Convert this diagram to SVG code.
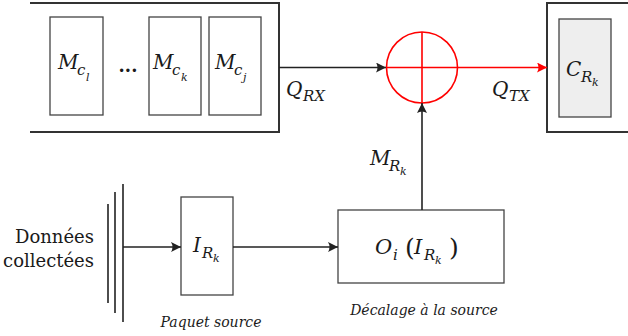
<svg xmlns="http://www.w3.org/2000/svg" width="628" height="336" viewBox="0 0 628 336">
<defs>
<marker id="ah" viewBox="0 0 10 10" refX="10" refY="5" markerWidth="10" markerHeight="10" markerUnits="userSpaceOnUse" orient="auto">
<path d="M0,0 Q3,5 0,10 L10,5 Z" fill="#222"/>
</marker>
<marker id="ahr" viewBox="0 0 10 10" refX="10" refY="5" markerWidth="10" markerHeight="10" markerUnits="userSpaceOnUse" orient="auto">
<path d="M0,0 Q3,5 0,10 L10,5 Z" fill="#ff0000"/>
</marker>
</defs>
<style>
.box{fill:#fff;stroke:#444;stroke-width:1.3}
.outer{fill:none;stroke:#333;stroke-width:2}
.wire{fill:none;stroke:#222;stroke-width:1.6}
.red{fill:none;stroke:#ff0000;stroke-width:1.6}
.m{font-family:"DejaVu Serif","Liberation Serif",serif;font-style:italic;fill:#1a1a1a}
.t{font-family:"DejaVu Serif","Liberation Serif",serif;fill:#1a1a1a}
.big{font-size:20px}
.sub{font-size:15px}
.ss{font-size:11px}
</style>
<rect width="628" height="336" fill="#fff"/>

<g id="memory">
<path class="outer" d="M30,3 H279 V132 H30"/>
<g id="mcl">
<rect class="box" x="50" y="17" width="53" height="98"/>
<text class="m big" x="58" y="69">M</text><text class="m sub" x="77" y="75">c</text><text class="m ss" x="86" y="81">l</text>
</g>
<g id="dots"><text class="t" x="128" y="72" font-size="18" font-weight="bold" text-anchor="middle">...</text></g>
<g id="mck">
<rect class="box" x="149" y="17" width="52" height="98"/>
<text class="m big" x="153" y="69">M</text><text class="m sub" x="172" y="75">c</text><text class="m ss" x="181" y="81">k</text>
</g>
<g id="mcj">
<rect class="box" x="209" y="17" width="52" height="98"/>
<text class="m big" x="215" y="69">M</text><text class="m sub" x="234" y="75">c</text><text class="m ss" x="243" y="81">j</text>
</g>
</g>

<g id="sum">
<circle class="red" cx="422" cy="67.5" r="35.5"/>
<path class="red" d="M386.5,67.5 H457.5 M422,32 V103"/>
</g>

<g id="cache">
<path class="outer" d="M628,3 H547 V132 H628"/>
<rect x="559" y="19" width="52" height="98" fill="#eeeeee" stroke="#444" stroke-width="1.3"/>
<text class="m big" x="566" y="76">C</text><text class="m sub" x="581" y="82">R</text><text class="m ss" x="592" y="86">k</text>
</g>

<g id="source">
<path class="wire" d="M108,204 V303 M115,192 V313 M123,184 V322"/>
<text class="t" font-size="18" x="94" y="243" text-anchor="end">Données</text>
<text class="t" font-size="18" x="94" y="267" text-anchor="end">collectées</text>
</g>

<g id="packet">
<rect class="box" x="181" y="197" width="52" height="98"/>
<text class="m big" x="193" y="252">I</text><text class="m sub" x="202" y="258">R</text><text class="m ss" x="213" y="262">k</text>
<text class="m" font-size="14" x="211" y="327" text-anchor="middle">Paquet source</text>
</g>

<g id="offset">
<rect class="box" x="338" y="210" width="166" height="73"/>
<text class="m" font-size="21" x="375" y="254">O</text><text class="m sub" x="393" y="260">i</text>
<text class="t" font-size="25" x="405" y="256">(</text>
<text class="m" font-size="21" x="414" y="254">I</text><text class="m sub" x="424" y="260">R</text><text class="m ss" x="435" y="264">k</text>
<text class="t" font-size="25" x="449" y="256">)</text>
<text class="m" font-size="14" x="424" y="315" text-anchor="middle">Décalage à la source</text>
</g>

<g id="connectors">
<path class="wire" d="M279,67.5 H386" marker-end="url(#ah)"/>
<path class="red" d="M457.5,67.5 H547" marker-end="url(#ahr)"/>
<path class="wire" d="M422,210 V103" marker-end="url(#ah)"/>
<path class="wire" d="M123,247 H181" marker-end="url(#ah)"/>
<path class="wire" d="M233,247 H338" marker-end="url(#ah)"/>
<text class="m big" x="286" y="96">Q</text><text class="m sub" x="303" y="101">RX</text>
<text class="m big" x="492" y="96">Q</text><text class="m sub" x="509" y="101">TX</text>
<text class="m big" x="370" y="165">M</text><text class="m sub" x="389" y="171">R</text><text class="m ss" x="400" y="175">k</text>
</g>
</svg>
